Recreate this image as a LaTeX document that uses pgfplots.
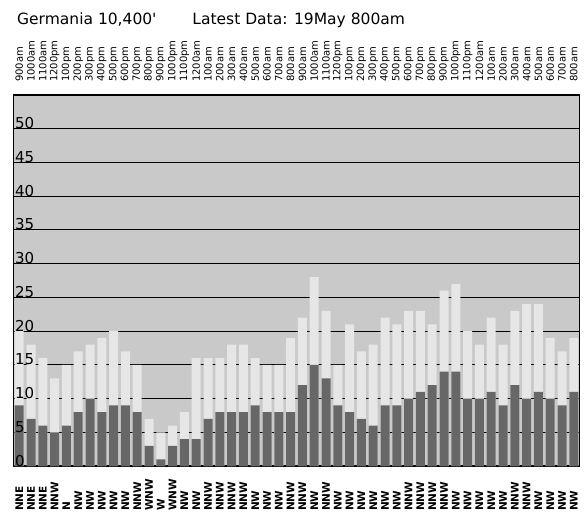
\documentclass[border=0pt]{standalone}
\usepackage{pgfplots}
\pgfplotsset{compat=1.18}
\usepackage{pgfplotstable}
\usepackage{fontspec}
\setmainfont{DejaVu Sans}[Ligatures=TeXOff]

\definecolor{plotbg}{RGB}{201,201,201}
\definecolor{gustbar}{RGB}{230,230,230}
\definecolor{avgbar}{RGB}{103,103,103}

% hour  gust  avg
\pgfplotstableread{
hr gust avg
1 20 9
2 18 7
3 16 6
4 13 5
5 15 6
6 17 8
7 18 10
8 19 8
9 20 9
10 17 9
11 15 8
12 7 3
13 5 1
14 6 3
15 8 4
16 16 4
17 16 7
18 16 8
19 18 8
20 18 8
21 16 9
22 15 8
23 15 8
24 19 8
25 22 12
26 28 15
27 23 13
28 15 9
29 21 8
30 17 7
31 18 6
32 22 9
33 21 9
34 23 10
35 23 11
36 21 12
37 26 14
38 27 14
39 20 10
40 18 10
41 22 11
42 18 9
43 23 12
44 24 10
45 24 11
46 19 10
47 17 9
48 19 11
}\wind

\begin{document}
\begin{tikzpicture}
\begin{axis}[
  width=566.4pt, height=371pt, scale only axis,
  xmin=0.5, xmax=48.5, ymin=0, ymax=55,
  axis background/.style={fill=plotbg},
  axis line style={black, line width=1.2pt},
  major tick length=0pt,
  ybar, bar width=9pt, bar shift=0pt,
  xtick={1,...,48},
  xticklabels={NNE,NNE,NNE,NNW,N,NW,NW,NW,NW,NW,NNW,WNW,W,WNW,NW,NW,
    NNW,NNW,NNW,NNW,NW,NW,NW,NNW,NNW,NW,NNW,NW,NW,NW,NW,NW,
    NW,NNW,NNW,NNW,NNW,NW,NW,NW,NW,NW,NNW,NNW,NW,NW,NW,NW},
  every x tick label/.style={font=\bfseries\fontsize{10.5}{12}\selectfont,
    inner sep=0pt, yshift=-45pt, rotate=90, anchor=west},
  extra x ticks={1,...,48},
  extra x tick labels={900am,1000am,1100am,1200pm,100pm,200pm,300pm,400pm,
    500pm,600pm,700pm,800pm,900pm,1000pm,1100pm,1200am,100am,200am,300am,
    400am,500am,600am,700am,800am,900am,1000am,1100am,1200pm,100pm,200pm,
    300pm,400pm,500pm,600pm,700pm,800pm,900pm,1000pm,1100pm,1200am,100am,
    200am,300am,400am,500am,600am,700am,800am},
  extra x tick style={xticklabel pos=upper, grid=none,
    every x tick label/.style={font=\fontsize{10}{12}\selectfont,
      inner sep=0pt, yshift=13pt, rotate=90, anchor=west}},
  ytick={0,5,...,50},
  yticklabels={},
  ymajorgrids,
  grid style={black, line width=0.9pt},
]
\addplot[fill=gustbar, draw=none] table[x=hr, y=gust] {\wind};
\addplot[fill=avgbar, draw=none] table[x=hr, y=avg] {\wind};
% value labels sit on top of the bars, inside the left edge
\pgfplotsinvokeforeach{0,5,...,50}{
  \node[anchor=base west, inner sep=0pt, xshift=1.5pt,
    font=\fontsize{15}{16}\selectfont] at (axis cs:0.5,#1) {#1};
}
\coordinate (sw) at (rel axis cs:0,0);
\coordinate (ne) at (rel axis cs:1,1);
\coordinate (nw) at (rel axis cs:0,1);
\end{axis}
\node[anchor=base west, inner sep=0pt, font=\fontsize{15.5}{18}\selectfont]
  at ([shift={(3.7pt,70pt)}]nw) {Germania 10,400'\hspace{36pt}Latest Data: 19May 800am};
\pgfresetboundingbox
\path[use as bounding box] ([shift={(-13.3pt,-48pt)}]sw) rectangle ([shift={(4.3pt,95pt)}]ne);
\end{tikzpicture}
\end{document}
